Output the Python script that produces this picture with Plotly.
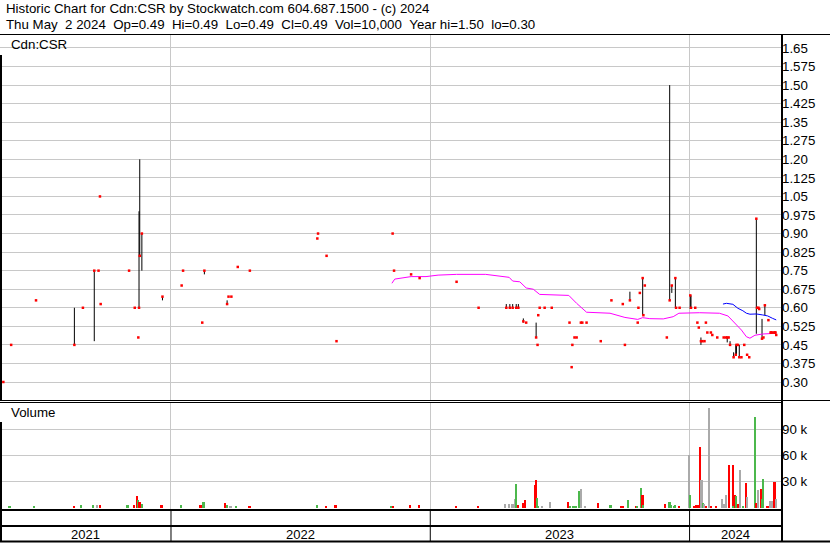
import plotly.graph_objects as go

W, H = 830, 543
FONT = "Liberation Sans, Arial, sans-serif"


def px(x):
    return x / W


def py(y):
    return 1 - y / H


# ---------------- data ----------------
trade_dates = [
    "2021-05-10", "2021-05-21", "2021-06-25", "2021-08-18", "2021-08-30", "2021-09-15", "2021-09-21",
    "2021-09-23", "2021-09-24", "2021-11-03", "2021-11-11", "2021-11-16", "2021-11-17", "2021-11-18",
    "2021-11-21", "2021-12-20",
    "2022-01-16", "2022-01-18", "2022-02-14", "2022-02-17", "2022-03-21", "2022-03-23", "2022-03-27",
    "2022-04-05", "2022-04-22", "2022-07-26", "2022-07-27", "2022-08-08", "2022-08-22", "2022-11-09",
    "2022-11-11", "2022-12-05", "2022-12-17",
    "2023-02-07", "2023-03-10", "2023-04-18", "2023-04-23", "2023-04-27", "2023-05-02", "2023-05-05",
    "2023-05-12", "2023-05-16", "2023-05-30", "2023-06-01", "2023-06-02", "2023-06-04", "2023-06-11",
    "2023-06-21", "2023-07-16", "2023-07-19", "2023-07-20", "2023-07-23", "2023-07-26", "2023-08-01",
    "2023-08-03", "2023-08-09", "2023-08-29", "2023-09-13", "2023-09-29", "2023-10-02", "2023-10-09",
    "2023-10-20", "2023-10-21", "2023-10-23", "2023-10-27", "2023-10-28", "2023-10-30", "2023-11-30",
    "2023-12-04", "2023-12-07", "2023-12-12", "2023-12-13", "2023-12-18",
    "2024-01-02", "2024-01-03", "2024-01-09", "2024-01-12", "2024-01-14", "2024-01-17", "2024-01-19",
    "2024-01-22", "2024-01-24", "2024-01-26", "2024-01-31", "2024-02-02", "2024-02-09", "2024-02-18",
    "2024-02-21", "2024-02-23", "2024-02-25", "2024-02-27", "2024-03-03", "2024-03-06", "2024-03-07",
    "2024-03-09", "2024-03-11", "2024-03-14", "2024-03-18", "2024-03-22", "2024-03-25", "2024-04-04",
    "2024-04-05", "2024-04-07", "2024-04-08", "2024-04-12", "2024-04-14", "2024-04-16", "2024-04-21",
    "2024-04-24", "2024-04-25", "2024-04-26", "2024-04-29", "2024-04-30", "2024-05-01", "2024-05-02",
]
trade_high = [
    0.30, 0.45, 0.63, 0.60, 0.60, 0.75, 0.75, 1.05, 0.615, 0.75, 0.60, 0.48, 0.99, 1.20, 0.90, 0.645,
    0.69, 0.75, 0.54, 0.75, 0.63, 0.645, 0.645, 0.765, 0.75, 0.88, 0.90, 0.81, 0.465, 0.90, 0.75, 0.735, 0.72,
    0.705, 0.60, 0.615, 0.615, 0.615, 0.615, 0.615, 0.557, 0.54, 0.54, 0.45, 0.57, 0.60, 0.60, 0.60, 0.54,
    0.36, 0.45, 0.48, 0.48, 0.54, 0.54, 0.54, 0.465, 0.63, 0.615, 0.45, 0.665, 0.54, 0.60, 0.66, 0.72,
    0.57, 0.69, 0.48, 1.50, 0.69, 0.72, 0.60, 0.60,
    0.65, 0.65, 0.60, 0.54, 0.52, 0.48, 0.465, 0.465, 0.54, 0.50, 0.50, 0.49, 0.48, 0.48, 0.48, 0.48,
    0.48, 0.465, 0.42, 0.45, 0.45, 0.45, 0.45, 0.40, 0.45, 0.41, 0.40, 0.96, 0.60, 0.60, 0.595, 0.555,
    0.48, 0.61, 0.55, 0.50, 0.50, 0.50, 0.50, 0.50, 0.50, 0.49,
]
trade_low = [
    0.30, 0.45, 0.63, 0.45, 0.60, 0.465, 0.75, 1.05, 0.615, 0.75, 0.60, 0.48, 0.60, 0.81, 0.75, 0.63,
    0.69, 0.75, 0.54, 0.735, 0.615, 0.645, 0.645, 0.765, 0.75, 0.88, 0.90, 0.81, 0.465, 0.90, 0.75, 0.735, 0.72,
    0.705, 0.60, 0.60, 0.60, 0.60, 0.60, 0.60, 0.54, 0.54, 0.48, 0.45, 0.57, 0.60, 0.60, 0.60, 0.54,
    0.36, 0.45, 0.48, 0.48, 0.54, 0.54, 0.54, 0.465, 0.63, 0.615, 0.45, 0.63, 0.54, 0.60, 0.66, 0.57,
    0.57, 0.69, 0.48, 0.63, 0.66, 0.60, 0.60, 0.60,
    0.595, 0.595, 0.60, 0.54, 0.52, 0.45, 0.465, 0.465, 0.54, 0.50, 0.50, 0.49, 0.48, 0.48, 0.48, 0.46,
    0.48, 0.45, 0.40, 0.41, 0.41, 0.45, 0.40, 0.40, 0.45, 0.41, 0.40, 0.495, 0.60, 0.60, 0.595, 0.475,
    0.48, 0.57, 0.55, 0.50, 0.50, 0.50, 0.50, 0.50, 0.50, 0.49,
]
trade_close = [
    0.30, 0.45, 0.63, 0.45, 0.60, 0.75, 0.75, 1.05, 0.615, 0.75, 0.60, 0.48, 0.60, 0.81, 0.90, 0.645,
    0.69, 0.75, 0.54, 0.75, 0.615, 0.645, 0.645, 0.765, 0.75, 0.88, 0.90, 0.81, 0.465, 0.90, 0.75, 0.735, 0.72,
    0.705, 0.60, 0.60, 0.60, 0.60, 0.60, 0.60, 0.545, 0.54, 0.48, 0.45, 0.57, 0.60, 0.60, 0.60, 0.54,
    0.36, 0.45, 0.48, 0.48, 0.54, 0.54, 0.54, 0.465, 0.63, 0.615, 0.45, 0.63, 0.54, 0.60, 0.66, 0.72,
    0.57, 0.69, 0.48, 0.63, 0.69, 0.72, 0.60, 0.60,
    0.65, 0.60, 0.60, 0.54, 0.52, 0.465, 0.465, 0.465, 0.54, 0.50, 0.50, 0.49, 0.48, 0.48, 0.48, 0.48,
    0.48, 0.45, 0.40, 0.41, 0.45, 0.45, 0.40, 0.40, 0.45, 0.41, 0.40, 0.96, 0.60, 0.60, 0.595, 0.475,
    0.48, 0.61, 0.55, 0.50, 0.50, 0.50, 0.50, 0.50, 0.50, 0.49,
]

ma_long_dates = [
    "2022-11-08", "2022-11-12", "2022-12-05", "2022-12-26", "2023-01-12", "2023-02-07", "2023-03-20",
    "2023-04-08", "2023-04-22", "2023-04-27", "2023-05-07", "2023-05-16", "2023-05-26", "2023-06-04",
    "2023-06-18", "2023-07-15", "2023-07-26", "2023-08-09", "2023-09-11", "2023-10-02", "2023-10-20",
    "2023-10-27", "2023-11-06", "2023-11-25", "2023-12-09", "2023-12-17", "2024-01-15", "2024-02-12",
    "2024-02-24", "2024-03-02", "2024-03-14", "2024-03-21", "2024-03-26", "2024-04-02", "2024-04-13",
    "2024-05-02",
]
ma_long_vals = [
    0.699, 0.716, 0.726, 0.726, 0.732, 0.735, 0.735, 0.728, 0.723, 0.708, 0.705, 0.680, 0.675, 0.654,
    0.652, 0.650, 0.618, 0.582, 0.578, 0.561, 0.553, 0.560, 0.556, 0.555, 0.564, 0.578, 0.580, 0.578,
    0.567, 0.547, 0.510, 0.483, 0.477, 0.489, 0.494, 0.497,
]
ma_short_dates = [
    "2024-02-17", "2024-02-22", "2024-03-02", "2024-03-09", "2024-03-16", "2024-03-21", "2024-03-26",
    "2024-04-04", "2024-04-13", "2024-04-20", "2024-04-27", "2024-05-02",
]
ma_short_vals = [0.615, 0.618, 0.614, 0.598, 0.588, 0.578, 0.574, 0.575, 0.571, 0.567, 0.557, 0.551]

vol_dates = [
    "2021-05-19", "2021-06-23", "2021-08-18", "2021-08-28", "2021-09-14", "2021-09-19", "2021-09-23",
    "2021-11-01", "2021-11-10", "2021-11-15", "2021-11-16", "2021-11-18", "2021-11-21", "2021-12-19",
    "2022-01-15", "2022-02-12", "2022-02-16", "2022-03-18", "2022-03-21", "2022-03-26", "2022-04-03",
    "2022-04-22", "2022-07-26", "2022-08-07", "2022-08-21", "2022-11-07", "2022-11-10", "2022-12-04",
    "2022-12-16",
    "2023-02-06", "2023-03-10", "2023-04-17", "2023-04-22", "2023-04-27", "2023-05-01", "2023-05-02",
    "2023-05-05", "2023-05-12", "2023-05-15", "2023-05-29", "2023-05-30", "2023-06-01", "2023-06-02",
    "2023-06-08", "2023-06-19", "2023-07-14", "2023-07-17", "2023-07-22", "2023-07-25", "2023-07-30",
    "2023-08-02", "2023-08-07", "2023-08-26", "2023-09-12", "2023-09-27", "2023-09-30", "2023-10-07",
    "2023-10-18", "2023-10-19", "2023-10-25", "2023-10-27", "2023-10-28", "2023-11-28", "2023-12-04",
    "2023-12-06", "2023-12-11", "2023-12-12", "2023-12-17",
    "2024-01-01", "2024-01-02", "2024-01-08", "2024-01-11", "2024-01-13", "2024-01-16", "2024-01-18",
    "2024-01-20", "2024-01-22", "2024-01-25", "2024-01-29", "2024-02-01", "2024-02-08", "2024-02-16",
    "2024-02-19", "2024-02-22", "2024-02-26", "2024-03-02", "2024-03-03", "2024-03-05", "2024-03-07",
    "2024-03-09", "2024-03-12", "2024-03-17", "2024-03-21", "2024-03-22", "2024-04-03", "2024-04-04",
    "2024-04-05", "2024-04-07", "2024-04-11", "2024-04-12", "2024-04-14", "2024-04-19", "2024-04-22",
    "2024-04-24", "2024-04-26", "2024-04-30", "2024-05-02",
]
vol_values = [
    1000, 1000, 1000, 3000, 3000, 3000, 3000, 3000, 3000, 13600, 8700, 6700, 4400, 3000,
    3000, 3000, 6300, 5000, 3000, 2000, 1000, 2000, 3000, 2000, 3000, 2000, 1000, 3000, 3000,
    1000, 2000, 3700, 3700, 3700, 9800, 27000, 3000, 5200, 8700, 26000, 31700, 11000, 2000,
    1000, 6000, 6000, 1000, 2000, 1000, 19000, 21300, 2000, 5000, 3000, 1000, 2000, 8700,
    2000, 2000, 22500, 14400, 3000, 4000, 6000, 3000, 1000, 3000, 1000,
    61000, 15000, 2000, 3000, 3000, 69800, 31700, 5000, 4000, 1000, 114800, 1000, 1000, 9800,
    3700, 14400, 49000, 49000, 1000, 14400, 13300, 4000, 43000, 2000, 28000, 12000, 104000, 5000,
    1000, 20000, 21000, 9800, 32900, 2000, 2000, 7700, 7700, 29400, 10000,
]
vol_dir = [
    "u", "u", "d", "u", "u", "n", "d", "u", "d", "d", "u", "d", "u", "d",
    "u", "d", "u", "d", "u", "n", "u", "d", "u", "d", "d", "u", "d", "d", "d",
    "d", "d", "n", "n", "n", "n", "u", "d", "d", "d", "d", "d", "u", "u",
    "n", "n", "d", "u", "u", "u", "u", "n", "n", "d", "u", "d", "d", "u",
    "d", "u", "u", "d", "u", "d", "u", "u", "u", "u", "d",
    "n", "u", "d", "d", "d", "d", "n", "u", "n", "d", "n", "d", "d", "n",
    "n", "n", "d", "d", "u", "d", "u", "d", "n", "u", "d", "n", "u", "d",
    "d", "n", "d", "u", "u", "d", "d", "n", "n", "d", "n",
]

price_ticks = [0.30, 0.375, 0.45, 0.525, 0.60, 0.675, 0.75, 0.825, 0.90, 0.975, 1.05, 1.125,
               1.20, 1.275, 1.35, 1.425, 1.50, 1.575, 1.65]
price_labels = ["0.30", "0.375", "0.45", "0.525", "0.60", "0.675", "0.75", "0.825", "0.90", "0.975",
                "1.05", "1.125", "1.20", "1.275", "1.35", "1.425", "1.50", "1.575", "1.65"]
vol_ticks = [30000, 60000, 90000]
vol_labels = ["30 k", "60 k", "90 k"]

year_starts = ["2022-01-01", "2023-01-01", "2024-01-01"]
year_labels = ["2021", "2022", "2023", "2024"]
year_label_pos = ["2021-09-03", "2022-07-02", "2023-07-02", "2024-03-05"]

X_START = "2021-05-05 07:00"
X_END = "2024-05-08 17:00"

header1 = "Historic Chart for Cdn:CSR by Stockwatch.com 604.687.1500 - (c) 2024"
NB = "\u00a0"
header2 = (f"Thu May{NB}{NB}2 2024{NB}{NB}Op=0.49{NB}{NB}Hi=0.49{NB}{NB}Lo=0.49{NB}{NB}"
           f"Cl=0.49{NB}{NB}Vol=10,000{NB}{NB}Year hi=1.50{NB}{NB}lo=0.30")

# ---------------- figure ----------------
fig = go.Figure()

hx, hy = [], []
for d, h, l in zip(trade_dates, trade_high, trade_low):
    if h > l:
        hx += [d, d, None]
        hy += [l, h, None]
fig.add_trace(go.Scatter(x=hx, y=hy, mode="lines", line=dict(color="black", width=1),
                         xaxis="x", yaxis="y", hoverinfo="skip"))
fig.add_trace(go.Scatter(x=ma_long_dates, y=ma_long_vals, mode="lines",
                         line=dict(color="#ff00ff", width=1), xaxis="x", yaxis="y"))
fig.add_trace(go.Scatter(x=ma_short_dates, y=ma_short_vals, mode="lines",
                         line=dict(color="#0000ff", width=1), xaxis="x", yaxis="y"))
fig.add_trace(go.Scatter(x=trade_dates, y=trade_close, mode="markers",
                         marker=dict(symbol="square", size=2.5, color="#ff0000", line=dict(width=0)),
                         xaxis="x", yaxis="y"))

cmap = {"u": "#4cb84c", "d": "#ff0000", "n": "#aaaaaa"}
fig.add_trace(go.Bar(x=vol_dates, y=vol_values, marker=dict(color=[cmap[c] for c in vol_dir],
                                                          line=dict(width=0)),
                     width=2.4 * 86400000, xaxis="x2", yaxis="y2"))

GRID = "#c8c8c8"
XDOM = [0, 781 / W]
fig.update_layout(
    width=W, height=H, margin=dict(l=0, r=0, t=0, b=0),
    paper_bgcolor="white", plot_bgcolor="white", showlegend=False, bargap=0,
    xaxis=dict(domain=XDOM, range=[X_START, X_END], type="date", tickvals=year_starts,
               showticklabels=False, showgrid=True, gridcolor=GRID, gridwidth=1,
               zeroline=False, ticks="", anchor="y"),
    yaxis=dict(domain=[py(400), py(35)], range=[0.22725, 1.7025], side="right", anchor="x",
               tickvals=price_ticks, ticktext=price_labels, showgrid=True, gridcolor=GRID,
               gridwidth=1, zeroline=False, ticks="",
               tickfont=dict(family=FONT, size=13.3, color="#000000")),
    xaxis2=dict(domain=XDOM, range=[X_START, X_END], type="date", matches="x", tickvals=year_starts,
                showticklabels=False, showgrid=True, gridcolor=GRID, gridwidth=1,
                zeroline=False, ticks="", anchor="y2"),
    yaxis2=dict(domain=[py(509), py(402)], range=[-1730, 121700], side="right", anchor="x2",
                tickvals=vol_ticks, ticktext=vol_labels, showgrid=True, gridcolor=GRID,
                gridwidth=1, zeroline=False, ticks="",
                tickfont=dict(family=FONT, size=13.3, color="#000000")),
)

shapes = []


def hline(y, x0, x1, w=1):
    shapes.append(dict(type="line", xref="paper", yref="paper", x0=px(x0), x1=px(x1),
                       y0=py(y), y1=py(y), line=dict(color="black", width=w)))


def vline(x, y0, y1, w=1):
    shapes.append(dict(type="line", xref="paper", yref="paper", x0=px(x), x1=px(x),
                       y0=py(y0), y1=py(y1), line=dict(color="black", width=w)))


hline(34.5, 0, 830, 1)
hline(400.5, 0, 830, 1)
hline(402.5, 0, 781, 1)
hline(510, 0, 781, 2)
hline(526, 0, 781, 2)
hline(541.5, 0, 830, 2)
vline(1, 55, 400, 2)
vline(1, 422, 542, 2)
vline(782, 34, 542, 2)
for ys in year_starts:
    shapes.append(dict(type="line", xref="x", yref="paper", x0=ys, x1=ys, y0=py(510), y1=py(541),
                       line=dict(color="black", width=1)))
fig.update_layout(shapes=shapes)

ann = [
    dict(text=header1, x=px(4), y=py(9)),
    dict(text=header2, x=px(4), y=py(24)),
    dict(text="Cdn:CSR", x=px(9), y=py(44)),
    dict(text="Volume", x=px(9), y=py(413)),
]
annotations = []
for a in ann:
    annotations.append(dict(text=a["text"], x=a["x"], y=a["y"], xref="paper", yref="paper",
                            xanchor="left", yanchor="middle", showarrow=False,
                            font=dict(family=FONT, size=13.3, color="#000000")))
for lab, pos in zip(year_labels, year_label_pos):
    annotations.append(dict(text=lab, x=pos, y=py(534), xref="x", yref="paper", xanchor="center",
                            yanchor="middle", showarrow=False,
                            font=dict(family=FONT, size=13, color="#000000")))
fig.update_layout(annotations=annotations)

fig.write_html("out.html", config={"displayModeBar": False},
               post_script="document.body.style.margin='0';")
